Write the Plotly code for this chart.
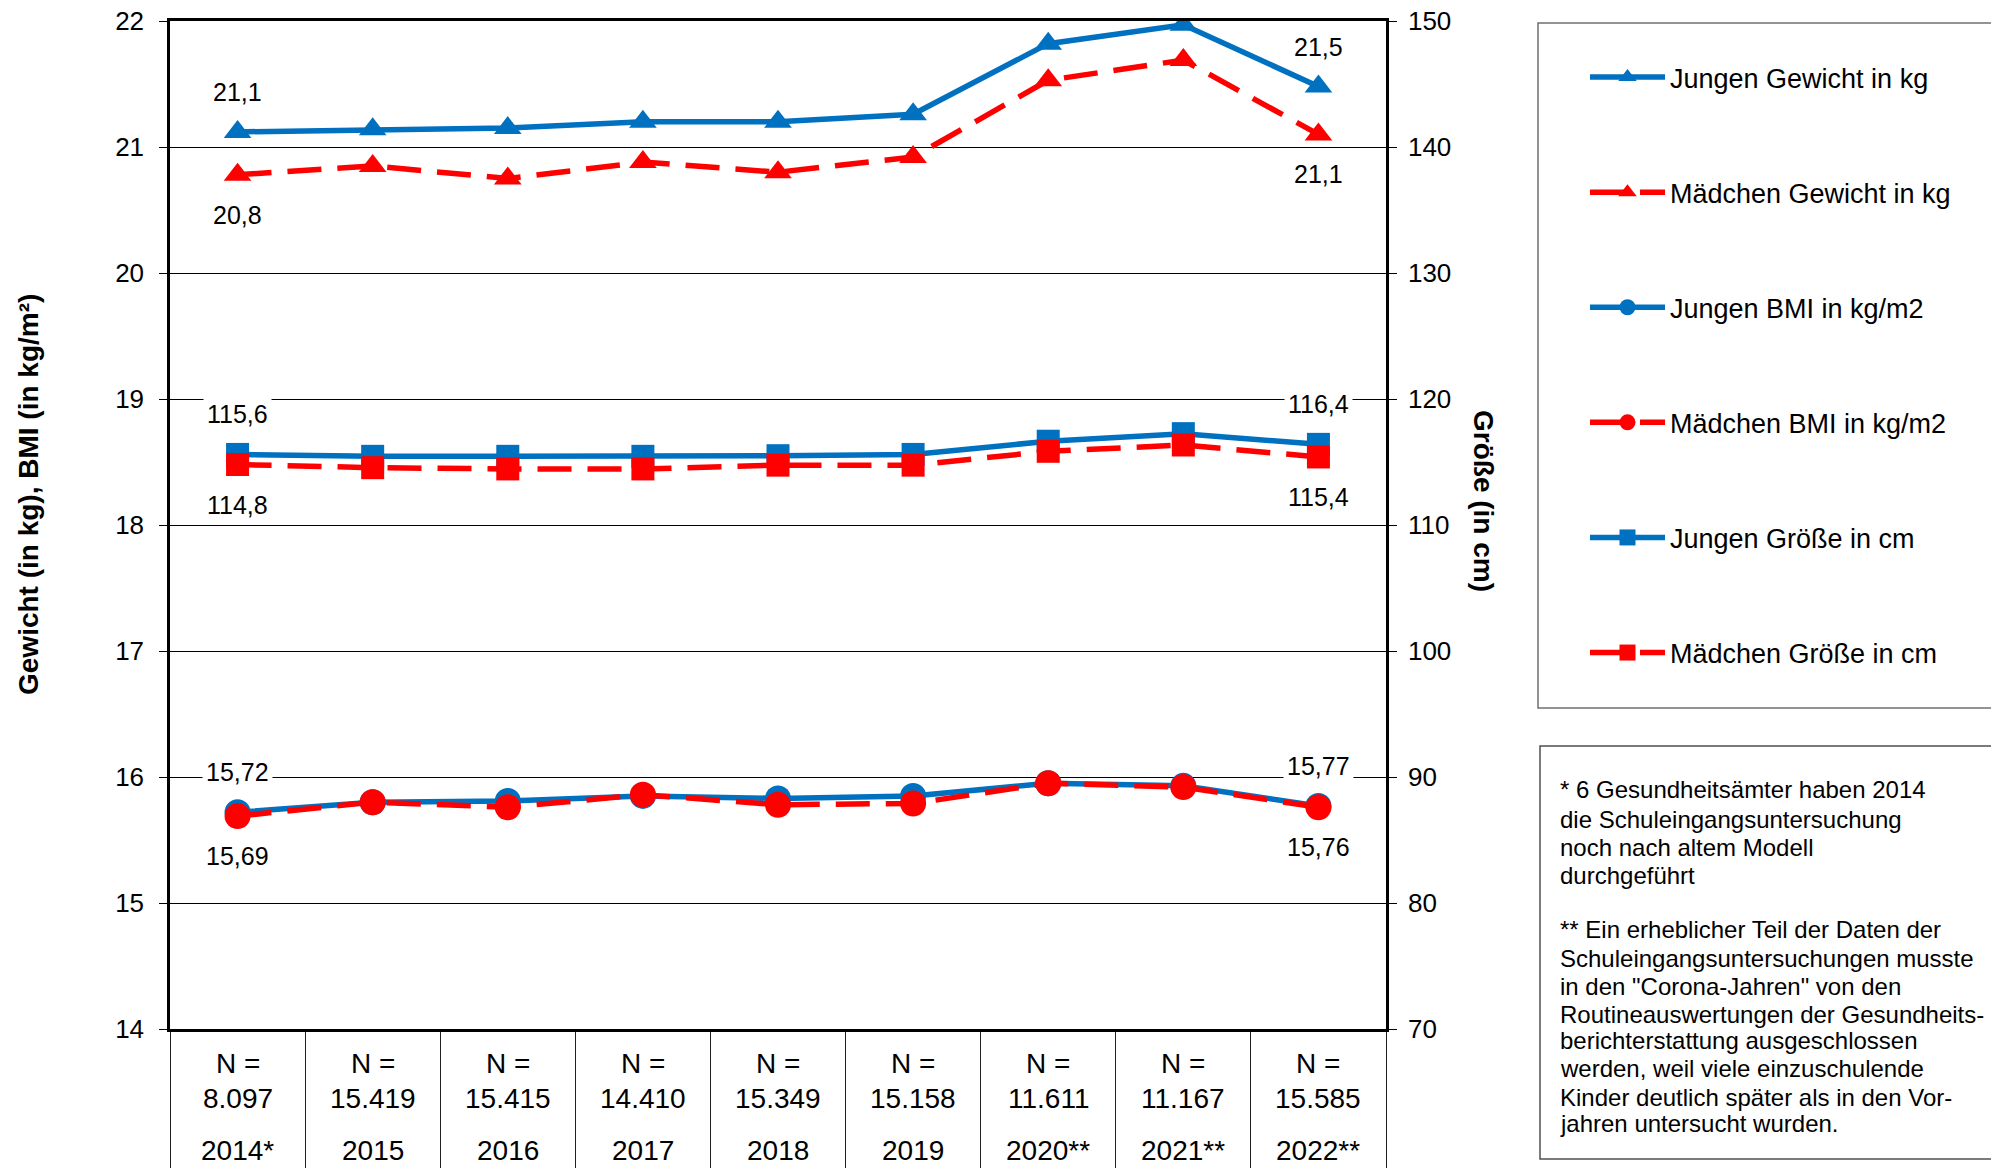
import plotly.graph_objects as go

# ---------------- data ----------------
years = ["2014*", "2015", "2016", "2017", "2018", "2019", "2020**", "2021**", "2022**"]
n_values = ["8.097", "15.419", "15.415", "14.410", "15.349", "15.158", "11.611", "11.167", "15.585"]

jungen_gewicht = [21.12, 21.14, 21.15, 21.20, 21.20, 21.26, 21.82, 21.97, 21.48]
maedchen_gewicht = [20.78, 20.85, 20.75, 20.88, 20.80, 20.92, 21.53, 21.69, 21.10]
jungen_bmi = [15.72, 15.80, 15.81, 15.85, 15.83, 15.85, 15.95, 15.93, 15.77]
maedchen_bmi = [15.69, 15.80, 15.76, 15.86, 15.78, 15.79, 15.95, 15.92, 15.76]
jungen_groesse = [115.6, 115.45, 115.45, 115.45, 115.5, 115.6, 116.65, 117.25, 116.4]
maedchen_groesse = [114.8, 114.55, 114.45, 114.45, 114.75, 114.75, 115.85, 116.35, 115.4]

left_ticks = [14, 15, 16, 17, 18, 19, 20, 21, 22]
right_ticks = [70, 80, 90, 100, 110, 120, 130, 140, 150]

note_lines = [
    "* 6 Gesundheitsämter haben 2014",
    "die Schuleingangsuntersuchung",
    "noch nach altem Modell",
    "durchgeführt",
    "",
    "** Ein erheblicher Teil der Daten der",
    "Schuleingangsuntersuchungen musste",
    "in den \"Corona-Jahren\" von den",
    "Routineauswertungen der Gesundheits-",
    "berichterstattung ausgeschlossen",
    "werden, weil viele einzuschulende",
    "Kinder deutlich später als in den Vor-",
    "jahren untersucht wurden.",
]

# ---------------- style ----------------
BLUE = "#0070C0"
RED = "#FF0000"
FONT = "Liberation Sans, Arial, sans-serif"
OFF = 8                     # page body margin
W, H = 1999 - OFF, 1168 - OFF
L, T = 170 - OFF, 21 - OFF
PLOT_R, PLOT_B = 1386 - OFF, 1029 - OFF
R, B = W - PLOT_R, H - PLOT_B
PW, PH = PLOT_R - L, PLOT_B - T


def px_x(px):
    return (px - OFF - L) / PW


def px_y(py):
    return (PLOT_B - (py - OFF)) / PH


fig = go.Figure()

series = [
    ("Jungen Gewicht in kg", jungen_gewicht, BLUE, "solid", "triangle-up", 24, "y", 1),
    ("Mädchen Gewicht in kg", maedchen_gewicht, RED, "34px,16px", "triangle-up", 24, "y", 1),
    ("Jungen BMI in kg/m2", jungen_bmi, BLUE, "solid", "circle", 26, "y", 2),
    ("Mädchen BMI in kg/m2", maedchen_bmi, RED, "34px,16px", "circle", 26, "y", 2),
    ("Jungen Größe in cm", jungen_groesse, BLUE, "solid", "square", 23, "y2", 1),
    ("Mädchen Größe in cm", maedchen_groesse, RED, "34px,16px", "square", 23, "y2", 1),
]

xs = list(range(len(years)))

for i, (name, vals, col, dash, sym, msize, yax, dec) in enumerate(series):
    fig.add_trace(go.Scatter(
        x=xs, y=vals, name=name, mode="lines+markers",
        line=dict(color=col, width=5.5, dash=dash),
        marker=dict(color=col, symbol=sym, size=msize),
        yaxis=yax, legendgroup=f"g{i}",
    ))
    above = col == BLUE
    for j in (0, len(vals) - 1):
        txt = f"{vals[j]:.{dec}f}".replace(".", ",")
        fig.add_annotation(
            x=xs[j], y=vals[j], xref="x", yref=yax,
            text=txt, showarrow=False,
            yshift=40 if above else -40,
            font=dict(size=25, color="black", family=FONT),
            bgcolor="white", borderpad=3,
        )

# table text below the x axis
for k, (yr, n) in enumerate(zip(years, n_values)):
    for txt, yc in (("N =", 1063), (n, 1098), (yr, 1150)):
        fig.add_annotation(x=k, y=px_y(yc), xref="x", yref="paper", text=txt,
                           showarrow=False, yanchor="middle",
                           font=dict(size=28, color="black", family=FONT))

# axis titles
fig.add_annotation(x=px_x(28), y=px_y(495), xref="paper", yref="paper",
                   text="<b>Gewicht (in kg), BMI (in kg/m²)</b>", textangle=-90,
                   showarrow=False, xanchor="center", yanchor="middle",
                   font=dict(size=28, color="black", family=FONT))
fig.add_annotation(x=px_x(1484), y=px_y(501), xref="paper", yref="paper",
                   text="<b>Größe (in cm)</b>", textangle=90,
                   showarrow=False, xanchor="center", yanchor="middle",
                   font=dict(size=28, color="black", family=FONT))

# note box text
note_y = [789, 819, 847, 875, 902, 929, 958, 986, 1014, 1040, 1068, 1097, 1123]
for line, yc in zip(note_lines, note_y):
    if line:
        fig.add_annotation(x=px_x(1558), y=px_y(yc), xref="paper", yref="paper",
                           text=line, showarrow=False, xanchor="left", yanchor="middle",
                           font=dict(size=24, color="black", family=FONT))

# legend box and note box
fig.add_shape(type="rect", xref="paper", yref="paper",
              x0=px_x(1538), x1=px_x(2100), y0=px_y(708), y1=px_y(23),
              line=dict(color="#707070", width=1.5), fillcolor="rgba(0,0,0,0)")
fig.add_shape(type="rect", xref="paper", yref="paper",
              x0=px_x(1540), x1=px_x(2100), y0=px_y(1159), y1=px_y(746),
              line=dict(color="#505050", width=1.5), fillcolor="rgba(0,0,0,0)")

fig.update_layout(
    width=W, height=H,
    margin=dict(l=L, r=R, t=T, b=B, autoexpand=False),
    paper_bgcolor="white", plot_bgcolor="white",
    font=dict(family=FONT, color="black"),
    showlegend=True,
    legend=dict(
        x=px_x(1585), y=px_y(53), xanchor="left", yanchor="top",
        traceorder="grouped", tracegroupgap=77,
        font=dict(size=27, color="black", family=FONT),
        bgcolor="rgba(0,0,0,0)", borderwidth=0, itemwidth=75,
    ),
    xaxis=dict(
        range=[-0.5, len(years) - 0.5],
        tickvals=[k - 0.5 for k in range(len(years) + 1)],
        showgrid=False, showticklabels=False,
        ticks="outside", ticklen=B, tickwidth=1.2, tickcolor="#202020",
        showline=True, linecolor="black", linewidth=3, mirror=True,
        zeroline=False,
    ),
    yaxis=dict(
        range=[left_ticks[0], left_ticks[-1]], tickvals=left_ticks,
        ticktext=[str(v) for v in left_ticks],
        showgrid=True, gridcolor="black", gridwidth=1,
        showline=True, linecolor="black", linewidth=2.5,
        ticks="outside", ticklen=8, tickcolor="black",
        tickfont=dict(size=26, family=FONT, color="black"),
        ticklabeloverflow="allow", ticklabelstandoff=10,
        zeroline=False,
    ),
    yaxis2=dict(
        range=[right_ticks[0], right_ticks[-1]], tickvals=right_ticks,
        ticktext=[str(v) for v in right_ticks],
        overlaying="y", side="right", showgrid=False,
        showline=True, linecolor="black", linewidth=2.5,
        ticks="outside", ticklen=8, tickcolor="black",
        tickfont=dict(size=26, family=FONT, color="black"),
        ticklabeloverflow="allow", ticklabelstandoff=6,
        zeroline=False,
    ),
)

fig.write_html("out.html")
